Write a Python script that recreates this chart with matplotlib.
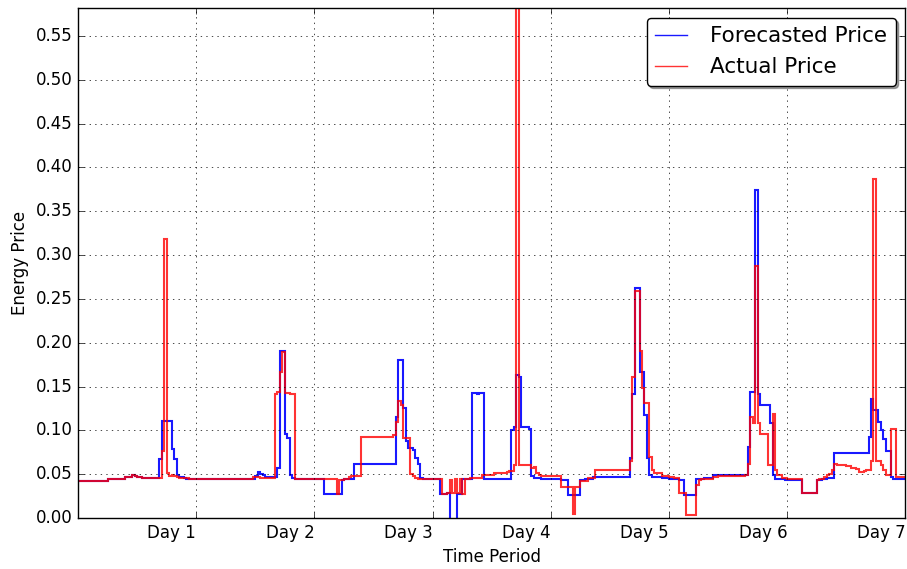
import numpy as np
import matplotlib
matplotlib.use("Agg")
import matplotlib.pyplot as plt

# half-hourly prices, one list of 48 values per day
forecast_day1 = [0.042]*12 + [0.044]*7 + [0.047]*3 + [0.049, 0.048, 0.047, 0.047, 0.046] + [0.046]*6 + \
    [0.067, 0.111, 0.111, 0.111, 0.111, 0.079, 0.067, 0.049, 0.047, 0.047, 0.046, 0.045, 0.045, 0.045, 0.044]
actual_day1 = [0.042]*12 + [0.044]*7 + [0.047]*3 + [0.049, 0.048, 0.047, 0.047, 0.046] + [0.046]*6 + \
    [0.046, 0.077, 0.318, 0.051, 0.048, 0.049, 0.048, 0.047, 0.046, 0.046, 0.046, 0.046, 0.045, 0.045, 0.045]

forecast_day2 = [0.044]*20 + [0.045]*4 + [0.048, 0.052, 0.050, 0.049] + [0.047]*5 + \
    [0.057, 0.191, 0.191, 0.096, 0.091, 0.049, 0.046] + [0.044]*8
actual_day2 = [0.044]*20 + [0.045]*3 + [0.047]*3 + [0.046]*6 + \
    [0.142, 0.144, 0.167, 0.189, 0.143, 0.143, 0.142, 0.142] + [0.044]*8

forecast_day3 = [0.044]*4 + [0.027]*7 + [0.043] + [0.045]*4 + [0.062]*17 + \
    [0.115, 0.180, 0.180, 0.125, 0.088, 0.080, 0.080, 0.078, 0.068, 0.062, 0.046, 0.045, 0.045, 0.044, 0.044]
actual_day3 = [0.044]*9 + [0.027, 0.043, 0.043, 0.045, 0.045, 0.047, 0.048, 0.048, 0.048, 0.048] + [0.093]*13 + \
    [0.095, 0.110, 0.134, 0.129, 0.091, 0.091, 0.091, 0.050, 0.048, 0.046] + [0.045]*6

forecast_day4 = [0.044, 0.044, 0.044, 0.027, 0.027, 0.027, 0.029, -0.003, -0.003, -0.003, 0.027, 0.027,
                 0.044, 0.045, 0.045, 0.045, 0.143, 0.143, 0.141, 0.143, 0.143] + [0.045]*11 + \
    [0.100, 0.104, 0.163, 0.161, 0.104, 0.104, 0.104, 0.102, 0.048, 0.046, 0.046, 0.046, 0.045, 0.045, 0.045, 0.045]
actual_day4 = [0.044]*4 + [0.027, 0.027, 0.029, 0.043, 0.028, 0.044, 0.028, 0.044, 0.027, 0.044, 0.045] + \
    [0.046]*5 + [0.049]*5 + [0.051]*5 + [0.052, 0.054, 0.054, 0.060, 0.582] + [0.061]*5 + \
    [0.057, 0.058, 0.051, 0.049, 0.048, 0.048, 0.048, 0.048]

forecast_day5 = [0.045]*4 + [0.043]*3 + [0.026]*5 + [0.043]*2 + [0.045]*3 + [0.047]*15 + \
    [0.069, 0.142, 0.262, 0.262, 0.167, 0.167, 0.117, 0.069, 0.049, 0.047, 0.047, 0.047, 0.047, 0.046, 0.046, 0.046]
actual_day5 = [0.048]*4 + [0.035]*5 + [0.005, 0.035, 0.035, 0.042, 0.042, 0.042, 0.046, 0.046, 0.046] + [0.055]*14 + \
    [0.065, 0.161, 0.259, 0.259, 0.191, 0.148, 0.131, 0.131, 0.070, 0.055, 0.051, 0.051, 0.051, 0.048, 0.048, 0.048]

forecast_day6 = [0.045]*4 + [0.043]*2 + [0.026]*5 + [0.044]*3 + [0.046]*4 + [0.049]*14 + \
    [0.081, 0.144, 0.144, 0.374, 0.142, 0.129, 0.129, 0.129, 0.129, 0.108, 0.049, 0.045, 0.045, 0.044, 0.044, 0.043]
actual_day6 = [0.047, 0.047, 0.046, 0.046, 0.029, 0.029, 0.029, 0.003, 0.003, 0.003, 0.003, 0.038, 0.043] + \
    [0.045]*5 + [0.047]*2 + [0.048]*11 + \
    [0.049, 0.062, 0.115, 0.108, 0.288, 0.108, 0.096, 0.096, 0.096, 0.060, 0.060, 0.119, 0.055, 0.049, 0.049, 0.046, 0.046]

forecast_day7 = [0.043]*6 + [0.028]*6 + [0.043, 0.043, 0.045, 0.045, 0.046, 0.046, 0.046] + [0.074]*14 + \
    [0.093, 0.136, 0.123, 0.123, 0.109, 0.100, 0.090, 0.077, 0.077, 0.047] + [0.044]*5
actual_day7 = [0.044]*6 + [0.028]*6 + [0.043, 0.044, 0.045, 0.047, 0.049, 0.050, 0.055, 0.062, 0.061, 0.061,
                                        0.060, 0.060, 0.059, 0.059, 0.057, 0.057, 0.056, 0.053, 0.053, 0.054,
                                        0.055, 0.055, 0.065, 0.387, 0.065, 0.065, 0.060, 0.055, 0.049, 0.049,
                                        0.102, 0.102, 0.047, 0.047, 0.047, 0.047]

day_labels = ["Day 1", "Day 2", "Day 3", "Day 4", "Day 5", "Day 6", "Day 7"]

forecast = np.array(forecast_day1 + forecast_day2 + forecast_day3 + forecast_day4 +
                    forecast_day5 + forecast_day6 + forecast_day7)
actual = np.array(actual_day1 + actual_day2 + actual_day3 + actual_day4 +
                  actual_day5 + actual_day6 + actual_day7)

hours = np.arange(len(actual) + 1) * 0.5

plt.style.use("classic")
fig = plt.figure(figsize=(9.07, 5.69), dpi=100, facecolor="white")
ax = fig.add_axes([78 / 907, 1 - 518 / 569, (905.5 - 78) / 907, (518 - 8) / 569])

ax.stairs(forecast, hours, baseline=None, color="blue", linewidth=1.5, alpha=0.9, label="Forecasted Price")
ax.stairs(actual, hours, baseline=None, color="red", linewidth=1.5, alpha=0.8, label="Actual Price")

ax.set_xlim(0, 24 * len(day_labels))
ax.set_ylim(0, actual.max())
ax.set_xticks(np.arange(1, len(day_labels) + 1) * 24)
ax.set_xticklabels(day_labels, ha="right")
ax.set_yticks(np.arange(0, 0.56, 0.05))
ax.set_yticklabels(["%.2f" % v for v in np.arange(0, 0.56, 0.05)])
ax.grid(True)
ax.set_xlabel("Time Period")
ax.set_ylabel("Energy Price")
leg = ax.legend(loc="upper right", shadow=True, fancybox=True, fontsize=15.5,
                handlelength=1.45, handletextpad=1.1, borderaxespad=0.45)
for line in leg.get_lines():
    line.set_linewidth(1.0)

fig.savefig("out.png", dpi=100, facecolor="white")
